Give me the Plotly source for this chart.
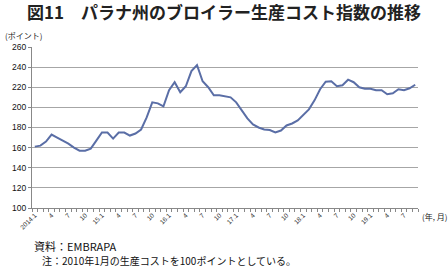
import plotly.graph_objects as go

# months 2014.1 .. 2019.9
months = [f"{y}.{m}" for y in range(2014, 2020) for m in range(1, 13)][:69]
tick_labels = ["2014.1", "", "", "4", "", "", "7", "", "", "10", "", "",
               "15.1", "", "", "4", "", "", "7", "", "", "10", "", "",
               "16.1", "", "", "4", "", "", "7", "", "", "10", "", "",
               "17.1", "", "", "4", "", "", "7", "", "", "10", "", "",
               "18.1", "", "", "4", "", "", "7", "", "", "10", "", "",
               "19.1", "", "", "4", "", "", "7", "", ""]
cost_index = [161, 162, 166, 173, 170, 167, 164, 160, 157, 157, 159, 167,
              175, 175, 169, 175, 175, 172, 174, 178, 190, 205, 204, 201,
              217, 225, 215, 221, 236, 242, 226, 220, 212, 212, 211, 210,
              205, 197, 189, 183, 180, 178, 177.5, 175, 177, 182, 184, 187,
              192, 198, 207, 218, 225.5, 226, 221, 222, 227.5, 225, 220, 218.5,
              218.5, 217, 217, 213, 214, 218, 217, 219, 222.5]

JP = "Noto Sans CJK JP"
fig = go.Figure()
fig.add_trace(go.Scatter(x=months, y=cost_index, mode="lines",
                         line=dict(color="#5a6ea6", width=2), showlegend=False))

fig.update_layout(
    width=448, height=269,
    margin=dict(l=30, r=30, t=47, b=61),
    paper_bgcolor="white", plot_bgcolor="white",
    font=dict(family=JP, color="#222"),
    title=dict(text="<b>図11　パラナ州のブロイラー生産コスト指数の推移</b>",
               x=0.5, xanchor="center", y=0.952, yanchor="middle",
               font=dict(size=17, family=JP, color="#222")),
    xaxis=dict(type="category", tickmode="array", tickvals=months, ticktext=tick_labels,
               tickson="boundaries", ticks="outside", ticklen=3, tickcolor="#888",
               tickangle=-45, tickfont=dict(size=6.5, family="Liberation Sans", color="#333"),
               showline=True, linecolor="#888", linewidth=1, showgrid=False,
               range=[-0.5, 68.5]),
    yaxis=dict(range=[100, 260], dtick=20,
               tickfont=dict(size=8.5, family="Liberation Sans", color="#111"),
               showgrid=True, gridcolor="#a6a6a6", gridwidth=1,
               showline=True, linecolor="#888", linewidth=1, zeroline=False,
               ticks="outside", ticklen=3, tickcolor="#888"),
)
fig.add_annotation(text="(ポイント)", xref="paper", yref="paper", x=-0.075, y=1.0,
                   xanchor="left", yanchor="bottom", yshift=4, showarrow=False,
                   font=dict(size=8, family=JP, color="#222"))
fig.add_annotation(text="(年, 月)", xref="paper", yref="paper", x=1.005, y=0,
                   xanchor="left", yanchor="top", yshift=-1, showarrow=False,
                   font=dict(size=8, family=JP, color="#222"))
fig.add_annotation(text="資料：EMBRAPA", xref="paper", yref="paper", x=0.0, y=0,
                   xanchor="left", yanchor="top", yshift=-28, showarrow=False,
                   font=dict(size=11, family=JP, color="#111"))
fig.add_annotation(text="注：2010年1月の生産コストを100ポイントとしている。", xref="paper", yref="paper",
                   x=0.02, y=0, xanchor="left", yanchor="top", yshift=-43, showarrow=False,
                   font=dict(size=10, family=JP, color="#111"))

fig.write_html("out.html")
